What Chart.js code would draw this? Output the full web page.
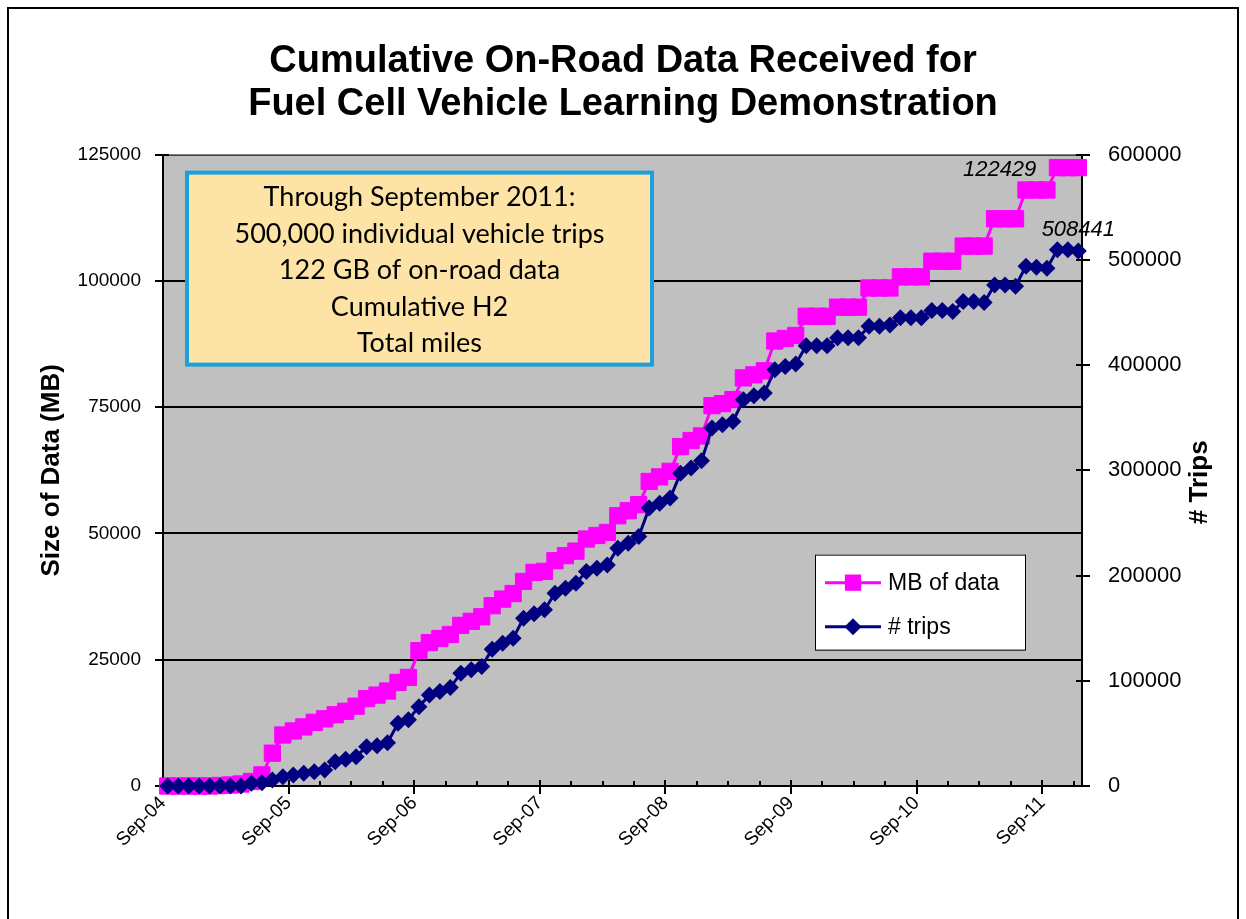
<!DOCTYPE html>
<html>
<head>
<meta charset="utf-8">
<script src="https://cdn.jsdelivr.net/npm/chart.js@4.4.1/dist/chart.umd.min.js"></script>
<style>
  html, body { margin: 0; padding: 0; background: #fff; }
  #wrap { width: 1246px; height: 919px; position: relative; }
</style>
</head>
<body>
<div id="wrap"><canvas id="dataChart"></canvas></div>
<script>
// monthly points, Sep-04 .. Dec-11
const months = [
  'Sep-04','Oct-04','Nov-04','Dec-04',
  'Jan-05','Feb-05','Mar-05','Apr-05','May-05','Jun-05','Jul-05','Aug-05','Sep-05','Oct-05','Nov-05','Dec-05',
  'Jan-06','Feb-06','Mar-06','Apr-06','May-06','Jun-06','Jul-06','Aug-06','Sep-06','Oct-06','Nov-06','Dec-06',
  'Jan-07','Feb-07','Mar-07','Apr-07','May-07','Jun-07','Jul-07','Aug-07','Sep-07','Oct-07','Nov-07','Dec-07',
  'Jan-08','Feb-08','Mar-08','Apr-08','May-08','Jun-08','Jul-08','Aug-08','Sep-08','Oct-08','Nov-08','Dec-08',
  'Jan-09','Feb-09','Mar-09','Apr-09','May-09','Jun-09','Jul-09','Aug-09','Sep-09','Oct-09','Nov-09','Dec-09',
  'Jan-10','Feb-10','Mar-10','Apr-10','May-10','Jun-10','Jul-10','Aug-10','Sep-10','Oct-10','Nov-10','Dec-10',
  'Jan-11','Feb-11','Mar-11','Apr-11','May-11','Jun-11','Jul-11','Aug-11','Sep-11','Oct-11','Nov-11','Dec-11'
];

// cumulative MB of data (left axis)
const mbData = [
  0, 0, 0, 0, 0, 100, 200, 400,
  900, 2200, 6500, 10100, 10900, 11700, 12600, 13300, 14100, 14800, 15800, 17300,
  18000, 18800, 20500, 21500, 26800, 28400, 29200, 30000, 31800, 32600, 33500, 35700,
  37000, 38100, 40500, 42300, 42500, 44600, 45600, 46500, 48900, 49600, 50200, 53500,
  54500, 55700, 60300, 61200, 62300, 67200, 68400, 69300, 75300, 75700, 76500, 80800,
  81400, 82200, 88100, 88600, 89200, 93000, 93000, 93000, 94800, 94800, 94800, 98600,
  98600, 98600, 100800, 100800, 100800, 103900, 103900, 103900, 106900, 106900, 106900, 112300,
  112300, 112300, 118000, 118000, 118000, 122429, 122429, 122429
];

// cumulative number of trips (right axis)
const tripsData = [
  0, 0, 0, 0, 0, 0, 0, 0,
  2500, 3100, 5700, 8800, 10500, 12000, 13600, 15200, 23100, 25400, 27900, 37400,
  38300, 41200, 59600, 63000, 75400, 86500, 89700, 93500, 107200, 110500, 113500, 130000,
  135700, 140400, 159500, 163600, 167400, 183200, 188000, 192700, 203800, 207000, 210100, 226000,
  230800, 237100, 264100, 268800, 273600, 297300, 302100, 309000, 340100, 343300, 346400, 367000,
  370900, 373400, 395600, 398700, 401000, 418400, 418400, 418400, 426000, 426000, 426000, 437000,
  437000, 438000, 445000, 445000, 445000, 452000, 452000, 451000, 460500, 460500, 459500, 476000,
  476000, 475000, 494000, 493000, 492000, 509700, 509700, 508441
];

const tickLabels = ['Sep-04', 'Sep-05', 'Sep-06', 'Sep-07', 'Sep-08', 'Sep-09', 'Sep-10', 'Sep-11'];

const noteLines = [
  'Through September 2011:',
  '500,000 individual vehicle trips',
  '122 GB of on-road data',
  'Cumulative H2',
  'Total miles'
];

const FONT = "'Liberation Sans', Arial, sans-serif";
const PINK = '#FF00FF';
const NAVY = '#000080';

// points sit in the middle of each month
function toPoints(vals) {
    return vals.map((v, i) => ({ x: i + 0.45, y: v, month: months[i] }));
}

// background, frame, tick marks, note box, legend, end labels
const decor = {
    id: 'decor',
    beforeDraw(chart) {
        const { ctx, chartArea: a } = chart;
        ctx.save();
        ctx.fillStyle = '#C0C0C0';
        ctx.fillRect(a.left, a.top, a.right - a.left, a.bottom - a.top);
        ctx.strokeStyle = '#000';
        ctx.lineWidth = 2;
        ctx.strokeRect(8, 8, 1230, 940);
        ctx.restore();
    },
    beforeDatasetsDraw(chart) {
        const { ctx, chartArea: a, scales } = chart;
        ctx.save();
        ctx.strokeStyle = '#808080';
        ctx.lineWidth = 1.5;
        ctx.beginPath();
        ctx.moveTo(a.left, a.top);
        ctx.lineTo(a.right, a.top);
        ctx.stroke();

        ctx.strokeStyle = '#000';
        ctx.lineWidth = 2;
        ctx.beginPath();
        // x: quarterly minor ticks, yearly major ticks
        for (let m = 0; m <= scales.x.max; m += 3) {
            const px = Math.round(scales.x.getPixelForValue(m));
            if (m % 12 === 0) {
                ctx.moveTo(px, a.bottom - 6);
                ctx.lineTo(px, a.bottom + 8);
            } else {
                ctx.moveTo(px, a.bottom - 5);
                ctx.lineTo(px, a.bottom);
            }
        }
        scales.y.ticks.forEach(t => {
            const py = Math.round(scales.y.getPixelForValue(t.value));
            ctx.moveTo(a.left - 8, py);
            ctx.lineTo(a.left + 6, py);
        });
        scales.y2.ticks.forEach(t => {
            const py = Math.round(scales.y2.getPixelForValue(t.value));
            ctx.moveTo(a.right - 6, py);
            ctx.lineTo(a.right + 8, py);
        });
        ctx.stroke();
        ctx.restore();
    },
    afterDraw(chart) {
        const { ctx, chartArea: a, scales } = chart;
        ctx.save();

        // right axis title, reading upward
        ctx.fillStyle = '#000';
        ctx.font = 'bold 26px ' + FONT;
        ctx.textAlign = 'center';
        ctx.textBaseline = 'middle';
        ctx.translate(a.right + 118, (a.top + a.bottom) / 2 + 12);
        ctx.rotate(-Math.PI / 2);
        ctx.fillText('# Trips', 0, 0);
        ctx.setTransform(1, 0, 0, 1, 0, 0);

        // note box
        const bx = a.left + 24, by = a.top + 18, bw = 465, bh = 192;
        ctx.fillStyle = '#FDE4A6';
        ctx.fillRect(bx, by, bw, bh);
        ctx.strokeStyle = '#1BA0DC';
        ctx.lineWidth = 4;
        ctx.strokeRect(bx, by, bw, bh);
        ctx.fillStyle = '#000';
        ctx.font = "27px Lato, 'Open Sans', sans-serif";
        ctx.textAlign = 'center';
        ctx.textBaseline = 'middle';
        noteLines.forEach((line, i) => {
            ctx.fillText(line, bx + bw / 2, by + 25 + i * 36.5);
        });

        // legend
        const lx = a.right - 267, ly = a.top + 400;
        ctx.fillStyle = '#fff';
        ctx.fillRect(lx, ly, 210, 95);
        ctx.strokeStyle = '#000';
        ctx.lineWidth = 1;
        ctx.strokeRect(lx + 0.5, ly + 0.5, 210, 95);
        const rows = [
            { text: 'MB of data', color: PINK, style: 'rect', r: 11.5, dy: 28 },
            { text: '# trips', color: NAVY, style: 'rectRot', r: 8.5, dy: 72 }
        ];
        rows.forEach(row => {
            const y = ly + row.dy;
            ctx.strokeStyle = row.color;
            ctx.lineWidth = 3;
            ctx.beginPath();
            ctx.moveTo(lx + 10, y);
            ctx.lineTo(lx + 66, y);
            ctx.stroke();
            ctx.fillStyle = row.color;
            Chart.helpers.drawPoint(ctx, { pointStyle: row.style, radius: row.r, borderWidth: 0 }, lx + 38, y);
            ctx.fillStyle = '#000';
            ctx.font = '23px ' + FONT;
            ctx.textAlign = 'left';
            ctx.fillText(row.text, lx + 73, y + 1);
        });

        // labels on the last points
        ctx.font = 'italic 22px ' + FONT;
        const lastMb = mbData.length - 1;
        const mbX = scales.x.getPixelForValue(lastMb + 0.45);
        const mbY = scales.y.getPixelForValue(mbData[lastMb]);
        ctx.textAlign = 'right';
        ctx.fillText(String(mbData[lastMb]), mbX - 42, mbY + 2);
        const lastTr = tripsData.length - 1;
        const trX = scales.x.getPixelForValue(lastTr + 0.45);
        const trY = scales.y2.getPixelForValue(tripsData[lastTr]);
        ctx.textAlign = 'center';
        ctx.fillText(String(tripsData[lastTr]), trX, trY - 21);

        ctx.restore();
    }
};

new Chart(document.getElementById('dataChart'), {
    type: 'line',
    data: {
        datasets: [
            {
                label: 'MB of data',
                data: toPoints(mbData),
                yAxisID: 'y',
                borderColor: PINK,
                backgroundColor: PINK,
                borderWidth: 3,
                pointStyle: 'rect',
                pointRadius: 11.5,
                pointBorderWidth: 1,
                pointHoverRadius: 11.5,
                clip: false,
                order: 1
            },
            {
                label: '# trips',
                data: toPoints(tripsData),
                yAxisID: 'y2',
                borderColor: NAVY,
                backgroundColor: NAVY,
                borderWidth: 3,
                pointStyle: 'rectRot',
                pointRadius: 8.5,
                pointBorderWidth: 0,
                pointHoverRadius: 8.5,
                clip: false,
                order: 0
            }
        ]
    },
    options: {
        responsive: true,
        maintainAspectRatio: false,
        animation: false,
        layout: { padding: { left: 0, right: 0, top: 0, bottom: 0 } },
        plugins: {
            legend: { display: false },
            tooltip: { enabled: false },
            title: {
                display: true,
                text: ['Cumulative On-Road Data Received for', 'Fuel Cell Vehicle Learning Demonstration'],
                color: '#000',
                font: { family: FONT, size: 38, weight: 'bold', lineHeight: 1.14 },
                padding: { top: 40, bottom: 28 }
            }
        },
        scales: {
            x: {
                type: 'linear',
                min: 0,
                max: 87.8,
                grid: { display: false },
                border: { display: true, color: '#000', width: 2 },
                ticks: {
                    stepSize: 12,
                    includeBounds: false,
                    autoSkip: false,
                    minRotation: 45,
                    maxRotation: 45,
                    padding: -2,
                    color: '#000',
                    font: { family: FONT, size: 19 },
                    callback: v => tickLabels[v / 12] || ''
                },
                afterFit: s => { s.height = 133; }
            },
            y: {
                position: 'left',
                min: 0,
                max: 125000,
                grid: { color: '#000', lineWidth: 2, drawTicks: false },
                border: { display: true, color: '#000', width: 2 },
                ticks: {
                    stepSize: 25000,
                    padding: 22,
                    color: '#000',
                    font: { family: FONT, size: 19 },
                    callback: v => String(v)
                },
                title: {
                    display: true,
                    text: 'Size of Data (MB)',
                    color: '#000',
                    font: { family: FONT, size: 26, weight: 'bold' },
                    padding: { top: 36, bottom: 0 }
                },
                afterFit: s => { s.width = 163; }
            },
            y2: {
                position: 'right',
                min: 0,
                max: 600000,
                grid: { display: false },
                border: { display: true, color: '#000', width: 2 },
                ticks: {
                    stepSize: 100000,
                    padding: 18,
                    color: '#000',
                    font: { family: FONT, size: 22 },
                    callback: v => String(v)
                },
                afterFit: s => { s.width = 164; }
            }
        }
    },
    plugins: [decor]
});
</script>
</body>
</html>
